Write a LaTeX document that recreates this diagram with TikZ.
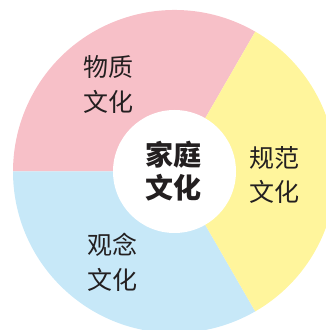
\documentclass[tikz,border=0pt]{standalone}
\usepackage{fontspec}
\newfontfamily\cjk{Noto Sans CJK SC}
\definecolor{pinkseg}{HTML}{F7C0C8}
\definecolor{yellowseg}{HTML}{FFF59C}
\definecolor{blueseg}{HTML}{C7E8F8}
\definecolor{txt}{HTML}{231F20}
\tikzset{
  seglabel/.style={align=center, inner sep=0pt, text=txt, font=\cjk\fontsize{25}{35}\selectfont},
  hublabel/.style={align=center, inner sep=0pt, text=txt, font=\cjk\bfseries\fontsize{28}{33}\selectfont}
}
\begin{document}
\begin{tikzpicture}[x=1pt,y=1pt]
\useasboundingbox (0,0) rectangle (326,330);
\clip (0,0) rectangle (326,330);
\coordinate (c) at (174.5,158.5);
\fill[pinkseg] (c) -- ++(60:161.5) arc[start angle=60, end angle=180, radius=161.5] -- cycle;
\fill[blueseg] (c) -- ++(180:161.5) arc[start angle=180, end angle=300, radius=161.5] -- cycle;
\fill[yellowseg] (c) -- ++(-60:161.5) arc[start angle=-60, end angle=60, radius=161.5] -- cycle;
\fill[white] (c) circle[radius=61.5];
\node[seglabel] (wz) at (108,245) {物质\\文化};
\node[seglabel] (gf) at (274,155) {规范\\文化};
\node[seglabel] (gn) at (112,68) {观念\\文化};
\node[hublabel] (jt) at (173,158.5) {家庭\\文化};
\end{tikzpicture}
\end{document}
